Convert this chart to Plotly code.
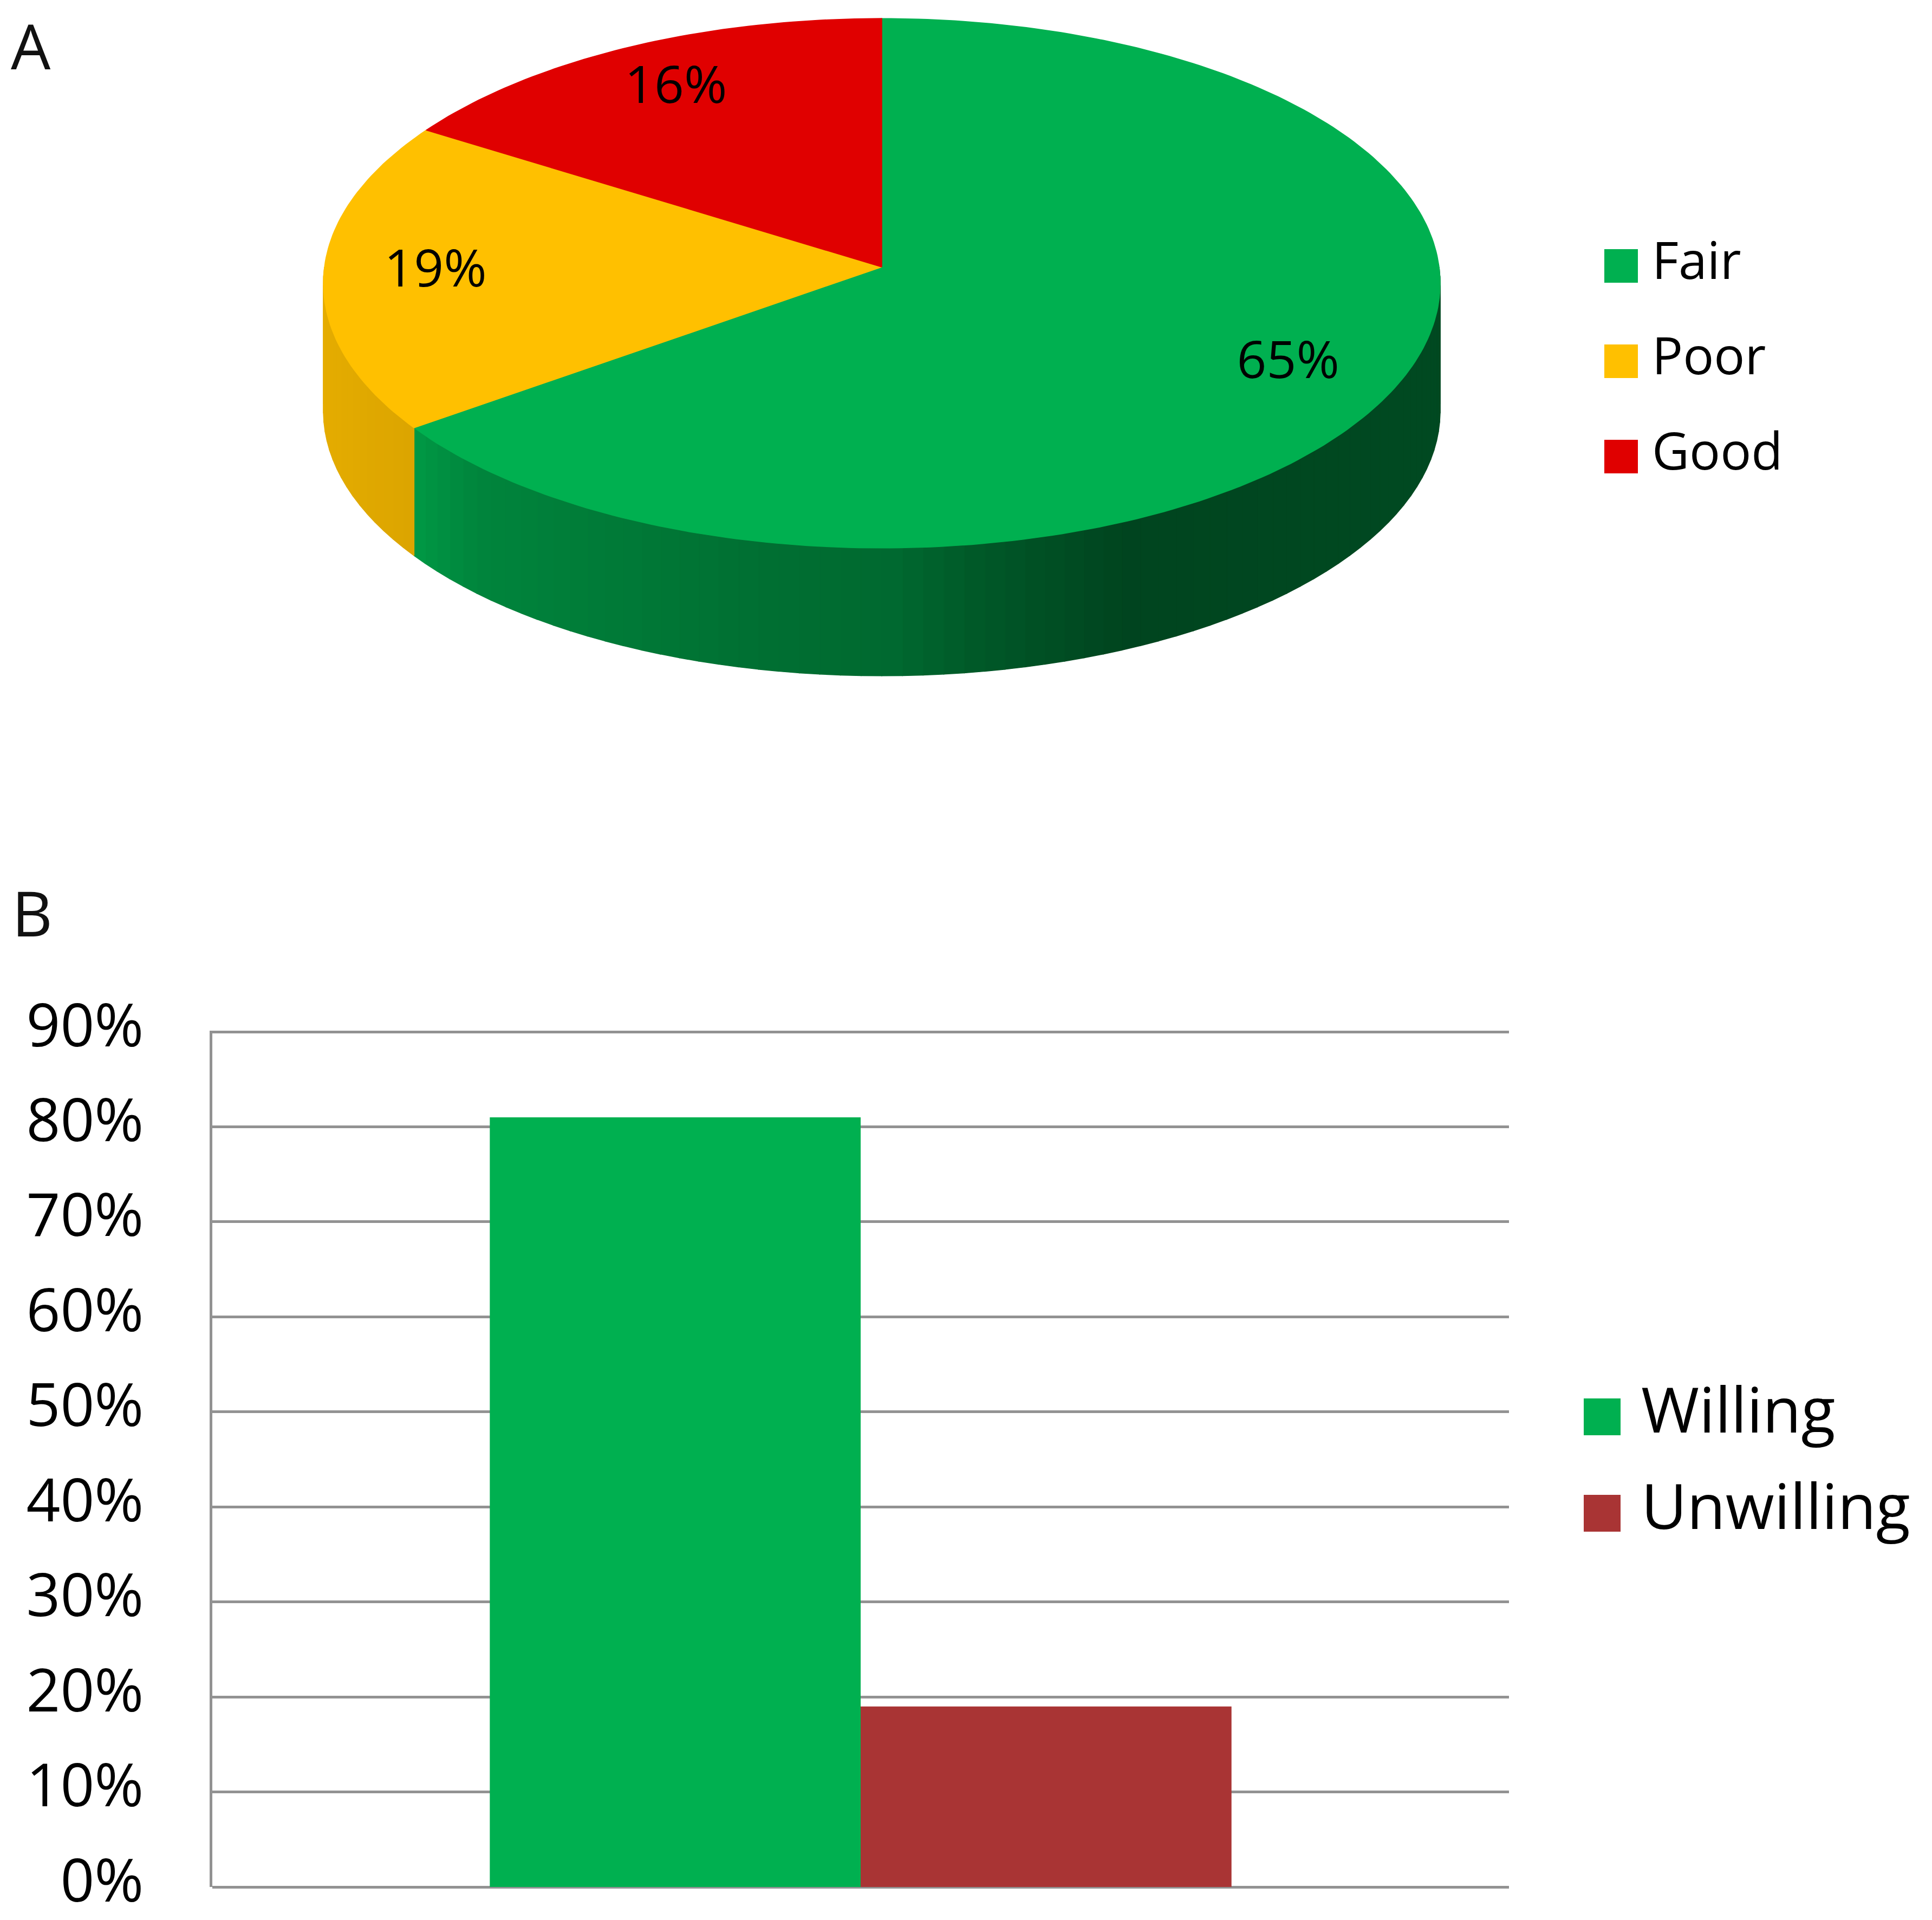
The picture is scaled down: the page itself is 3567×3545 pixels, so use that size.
import numpy as np
import plotly.graph_objects as go

# Panel A: rating shares (3D pie)
pie_labels = ["Fair", "Poor", "Good"]
pie_values = [65, 19, 16]
pie_colors = ["#00B050", "#FFC000", "#E00000"]

# Panel B: willingness (grouped bars)
bar_group = ["Willingness"]
bar_labels = ["Willing", "Unwilling"]
bar_values = [0.81, 0.19]
bar_colors = ["#00B050", "#A93434"]

ytick_vals = [0, 0.1, 0.2, 0.3, 0.4, 0.5, 0.6, 0.7, 0.8, 0.9]
ytick_text = ["0%", "10%", "20%", "30%", "40%", "50%", "60%", "70%", "80%", "90%"]

W, H = 3567, 3545
FONT = "Open Sans"
GRID = "#929292"

# pie geometry in page pixels (overlay axis uses pixel units)
# CX, AY: image of the pie centre; SX, SY: scales; K: perspective; DEPTH: wall height
CX, AY, SX, SY, K, DEPTH = 1628, 493, 1029, 487, 0.0613, 236


def project(theta, r=1.0, drop=0.0):
    # theta clockwise from 12 o'clock, seen with a little perspective
    t = np.radians(theta)
    u, v = r * np.sin(t), r * np.cos(t)
    d = 1 + K * v
    return CX + SX * u / d, AY - SY * v / d + drop


def hex_rgb(c):
    c = c.lstrip("#")
    return [int(c[i:i + 2], 16) for i in (0, 2, 4)]


def side_shade(color, xn):
    # wall gets darker towards the right, like an Excel 3D pie
    f = np.interp(xn,
                  [-1.0, -0.8, -0.7, -0.24, 0.02, 0.15, 0.41, 0.74, 1.0],
                  [0.90, 0.86, 0.76, 0.64, 0.60, 0.51, 0.39, 0.41, 0.42])
    r, g, b = hex_rgb(color)
    return "rgb(%d,%d,%d)" % (r * f, g * f, b * f)


fig = go.Figure()

# bars
for name, val, col in zip(bar_labels, bar_values, bar_colors):
    fig.add_trace(go.Bar(
        x=bar_group, y=[val], name=name, marker_color=col,
        marker_line_width=0, showlegend=False, xaxis="x", yaxis="y"
    ))

# pie angles, clockwise from 12 o'clock
total = sum(pie_values)
ends = np.cumsum(pie_values) / total * 360.0
starts = np.concatenate([[0.0], ends[:-1]])

# visible wall (front half, 90..270 deg)
for a0, a1, col in zip(starts, ends, pie_colors):
    lo, hi = max(a0, 90.0), min(a1, 270.0)
    if hi <= lo:
        continue
    n = int(np.ceil((hi - lo) / 2.0))
    edges = np.linspace(lo, hi, n + 1)
    for s0, s1 in zip(edges[:-1], edges[1:]):
        th = np.linspace(s0, s1, 4)
        tx, ty = project(th)
        bx, by = project(th[::-1], drop=DEPTH)
        shade = side_shade(col, np.sin(np.radians((s0 + s1) / 2)))
        fig.add_trace(go.Scatter(
            x=np.concatenate([tx, bx, tx[:1]]), y=np.concatenate([ty, by, ty[:1]]),
            mode="lines", fill="toself", fillcolor=shade,
            line=dict(color=shade, width=1.5), hoverinfo="skip",
            showlegend=False, xaxis="x2", yaxis="y2"
        ))

# top faces
for a0, a1, col, lab in zip(starts, ends, pie_colors, pie_labels):
    th = np.linspace(a0, a1, int(np.ceil(a1 - a0)) + 2)
    px, py = project(th)
    fig.add_trace(go.Scatter(
        x=np.concatenate([[CX], px, [CX]]), y=np.concatenate([[AY], py, [AY]]),
        mode="lines", fill="toself", fillcolor=col,
        line=dict(color=col, width=1.5), name=lab,
        hoverinfo="name", showlegend=False, xaxis="x2", yaxis="y2"
    ))

# percentage labels
mids = (starts + ends) / 2
lx, ly = project(mids, r=0.8)
fig.add_trace(go.Scatter(
    x=lx, y=ly, mode="text", text=[f"{v}%" for v in pie_values],
    textfont=dict(family=FONT, size=96, color="black"),
    hoverinfo="skip", showlegend=False, xaxis="x2", yaxis="y2"
))

# legend A
ia = np.arange(len(pie_labels))
fig.add_trace(go.Scatter(
    x=[2993] * len(ia), y=491 + ia * 176, mode="markers",
    marker=dict(symbol="square", size=62, color=pie_colors, line_width=0),
    hoverinfo="skip", showlegend=False, xaxis="x2", yaxis="y2"
))
fig.add_trace(go.Scatter(
    x=[3050] * len(ia), y=491 + ia * 176, mode="text", text=pie_labels,
    textposition="middle right",
    textfont=dict(family=FONT, size=95, color="black"),
    hoverinfo="skip", showlegend=False, xaxis="x2", yaxis="y2"
))

# legend B
ib = np.arange(len(bar_labels))
fig.add_trace(go.Scatter(
    x=[2958] * len(ib), y=2616 + ib * 178, mode="markers",
    marker=dict(symbol="square", size=68, color=bar_colors, line_width=0),
    hoverinfo="skip", showlegend=False, xaxis="x2", yaxis="y2"
))
fig.add_trace(go.Scatter(
    x=[3030] * len(ib), y=2616 + ib * 178, mode="text", text=bar_labels,
    textposition="middle right",
    textfont=dict(family=FONT, size=116, color="black"),
    hoverinfo="skip", showlegend=False, xaxis="x2", yaxis="y2"
))

fig.update_layout(
    width=W, height=H,
    margin=dict(l=0, r=0, t=0, b=0, autoexpand=False),
    paper_bgcolor="white", plot_bgcolor="rgba(0,0,0,0)",
    font=dict(family=FONT, color="black"),
    barmode="group", bargap=0.428, bargroupgap=0,
    showlegend=False,
    xaxis=dict(
        domain=[392 / W, 2786 / W], showticklabels=False, showgrid=False,
        showline=False, zeroline=False, ticks="", fixedrange=True, automargin=False
    ),
    yaxis=dict(
        domain=[1 - 3484 / H, 1 - 1903 / H], range=[0, 0.9012],
        tickvals=ytick_vals, ticktext=ytick_text,
        tickfont=dict(family=FONT, size=110, color="black"),
        ticks="", ticklabelstandoff=100, ticklabelshift=-12,
        ticklabeloverflow="allow",
        showgrid=True, gridcolor=GRID, gridwidth=4.5,
        zeroline=True, zerolinecolor=GRID, zerolinewidth=4.5,
        showline=True, linecolor=GRID, linewidth=4.5,
        fixedrange=True, automargin=False
    ),
    xaxis2=dict(domain=[0, 1], range=[0, W], visible=False, anchor="y2",
                fixedrange=True, automargin=False),
    yaxis2=dict(domain=[0, 1], range=[H, 0], visible=False, anchor="x2",
                fixedrange=True, automargin=False),
    annotations=[
        dict(text="A", x=18, y=2, xref="x2", yref="y2", xanchor="left", yanchor="top",
             showarrow=False, font=dict(family=FONT, size=116, color="#111")),
        dict(text="B", x=20, y=1603, xref="x2", yref="y2", xanchor="left", yanchor="top",
             showarrow=False, font=dict(family=FONT, size=116, color="#111")),
    ],
)

fig.write_html("out.html", config={"displayModeBar": False},
               post_script="document.body.style.margin='0';")
